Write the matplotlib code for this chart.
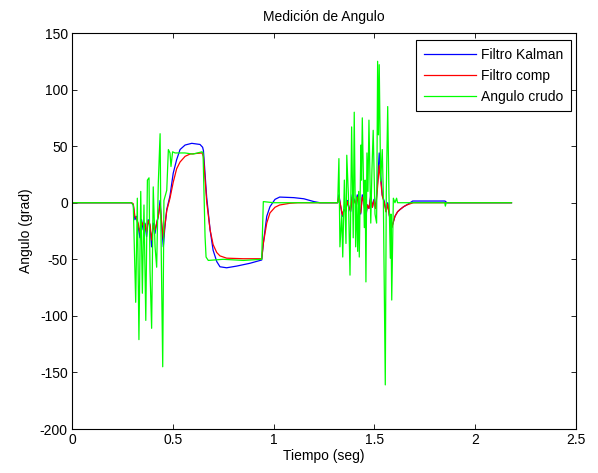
import matplotlib
matplotlib.use("Agg")
import matplotlib.pyplot as plt

plt.rcParams['font.family'] = ['Liberation Sans', 'DejaVu Sans']
plt.rcParams['axes.unicode_minus'] = False

# Filtro Kalman
t_kal = [0.000, 0.295, 0.304, 0.312, 0.320, 0.328, 0.337, 0.345, 0.353, 0.362,
         0.370, 0.378, 0.387, 0.395, 0.403, 0.412, 0.420, 0.428, 0.437, 0.445,
         0.453, 0.461, 0.470, 0.486, 0.502, 0.519, 0.536, 0.561, 0.594, 0.635,
         0.648, 0.652, 0.668, 0.685, 0.700, 0.718, 0.734, 0.767, 0.817, 0.883,
         0.941, 0.949, 0.966, 0.982, 1.007, 1.030, 1.100, 1.150, 1.200, 1.230,
         1.318, 1.324, 1.333, 1.341, 1.349, 1.358, 1.366, 1.374, 1.382, 1.390,
         1.399, 1.407, 1.415, 1.424, 1.432, 1.440, 1.448, 1.457, 1.465, 1.473,
         1.482, 1.490, 1.498, 1.506, 1.514, 1.524, 1.531, 1.539, 1.549, 1.558,
         1.566, 1.574, 1.586, 1.594, 1.602, 1.615, 1.627, 1.645, 1.660, 1.690,
         1.850, 1.860, 2.180]
kalman = [0, 0, -2, -15, -12, -21, -31, -15, -24, -18,
          -30, -15, -21, -39, -18, -27, -18, -12, 2, -21,
          -39, -21, -6, 6, 26, 38, 47, 51, 52.5, 51.5,
          49, 46, 5, -24, -42, -52, -56.6, -57.5, -56, -53.5,
          -50.6, -36, -12, -3.5, 3, 5, 4.5, 3.5, 1, 0,
          0, 7, -3.5, -12, -6, -8, 2, -4, -8, 7,
          3, -1, 7, -5, -10, 7, 1, -14, -2, -5,
          7, -4, 3, -5, 13, 44, 25, 7, 1, -8,
          0, -11, -22, -17, -12, -8, -6, -3.5, -2, 1.5,
          1.5, 0, 0]

# Filtro comp
t_comp = [0.000, 0.295, 0.304, 0.312, 0.320, 0.328, 0.337, 0.345, 0.353, 0.362,
          0.370, 0.378, 0.387, 0.395, 0.403, 0.412, 0.420, 0.428, 0.437, 0.445,
          0.453, 0.461, 0.470, 0.486, 0.502, 0.519, 0.536, 0.561, 0.585, 0.620,
          0.645, 0.652, 0.668, 0.685, 0.700, 0.718, 0.734, 0.767, 0.850, 0.941,
          0.949, 0.966, 0.982, 1.007, 1.030, 1.080, 1.120,
          1.318, 1.324, 1.333, 1.341, 1.349, 1.358, 1.366, 1.374, 1.382, 1.390,
          1.399, 1.407, 1.415, 1.424, 1.432, 1.440, 1.448, 1.457, 1.465, 1.473,
          1.482, 1.490, 1.498, 1.506, 1.514, 1.524, 1.531, 1.539, 1.549, 1.558,
          1.566, 1.574, 1.586, 1.594, 1.602, 1.615, 1.627, 1.645, 1.660, 1.693,
          2.180]
comp = [0, 0, -1, -12, -14, -18, -26, -17, -20, -19,
        -26, -16, -19, -33, -20, -24, -18, -12, -2, -18,
        -32, -20, -7, 4, 18, 30, 36, 41, 43, 43.6,
        44, 40.7, 1, -24, -37, -44, -47, -49, -49.5, -49.5,
        -36, -18, -9, -4, -2, -0.5, 0,
        0, 5, -3, -11, -6, -7, 1, -4, -7, 5,
        2, -1, 5, -5, -9, 5, 0, -12, -2, -5,
        5, -4, 2, -5, 10, 33, 20, 6, 0, -8,
        -1, -11, -22, -17, -12, -8, -6, -3.5, -2, 0,
        0]

# Angulo crudo
t_raw = [0.000, 0.295, 0.304, 0.316, 0.324, 0.332, 0.341, 0.349, 0.357, 0.366,
         0.374, 0.382, 0.387, 0.395, 0.403, 0.412, 0.420, 0.428, 0.437, 0.441,
         0.450, 0.456, 0.470, 0.478, 0.486, 0.491, 0.499, 0.511, 0.560, 0.600,
         0.645, 0.650, 0.660, 0.665, 0.676, 0.750, 0.850, 0.941, 0.949, 1.000,
         1.318, 1.324, 1.329, 1.338, 1.343, 1.351, 1.359, 1.363, 1.371, 1.379,
         1.387, 1.395, 1.400, 1.407, 1.412, 1.417, 1.422, 1.425, 1.433, 1.436,
         1.440, 1.450, 1.454, 1.458, 1.463, 1.468, 1.473, 1.482, 1.488, 1.494,
         1.503, 1.511, 1.516, 1.520, 1.524, 1.531, 1.539, 1.544, 1.554, 1.559,
         1.566, 1.572, 1.579, 1.582, 1.586, 1.594, 1.602, 1.610, 1.615, 1.849,
         1.852, 1.856, 2.180]
raw = [0, 0, -2, -88, 4, -121, 10, -80, -2, -104,
       20, 22, -60, -111, 14, -39, -57, 17, 61, -21,
       -145, 2, 11, 47, 44, 32, 45, 44, 44, 43,
       45, 44, -30, -48, -51, -50, -51, -50, 1, 0,
       0, 39, -39, -11, -48, 20, -36, 42, 7, -64,
       67, -31, 80, -39, 5, -43, 10, -48, 51, 20,
       75, -22, 20, -70, 44, 10, 73, -18, 30, 64,
       -10, -18, 125, 60, 122, 19, 47, 10, -161, 10,
       85, 10, -49, -10, -86, 4, 0, 4, 0, 0,
       -3, 0, 0]

fig = plt.figure(figsize=(5.98, 4.73), dpi=100)
ax = fig.add_axes([0.1204, 0.0930, 0.8428, 0.8372])

ax.plot(t_kal, kalman, color=(0, 0, 1), lw=0.9, label='Filtro Kalman')
ax.plot(t_comp, comp, color=(1, 0, 0), lw=0.9, label='Filtro comp')
ax.plot(t_raw, raw, color=(0, 1, 0), lw=0.9, label='Angulo crudo')

ax.set_xlim(0, 2.5)
ax.set_ylim(-200, 150)
ax.set_xticks([0, 0.5, 1, 1.5, 2, 2.5])
ax.set_xticklabels(['0', '0.5', '1', '1.5', '2', '2.5'])
ax.set_yticks([-200, -150, -100, -50, 0, 50, 100, 150])
ax.tick_params(direction='in', top=True, right=True, length=3.5, width=0.6,
               labelsize=10, pad=3)
for s in ax.spines.values():
    s.set_linewidth(0.8)

ax.set_title('Medición de Angulo', fontsize=10, pad=9)
ax.set_xlabel('Tiempo (seg)', fontsize=10, labelpad=1)
ax.set_ylabel('Angulo (grad)', fontsize=10, labelpad=5)

leg = ax.legend(loc='upper right', bbox_to_anchor=(0.990, 0.982), borderaxespad=0,
                fontsize=10, fancybox=False, framealpha=1, edgecolor='black',
                handlelength=3.7, handletextpad=0.4, labelspacing=0.5,
                borderpad=0.55)
leg.get_frame().set_linewidth(0.8)

fig.savefig('out.png', dpi=100)
